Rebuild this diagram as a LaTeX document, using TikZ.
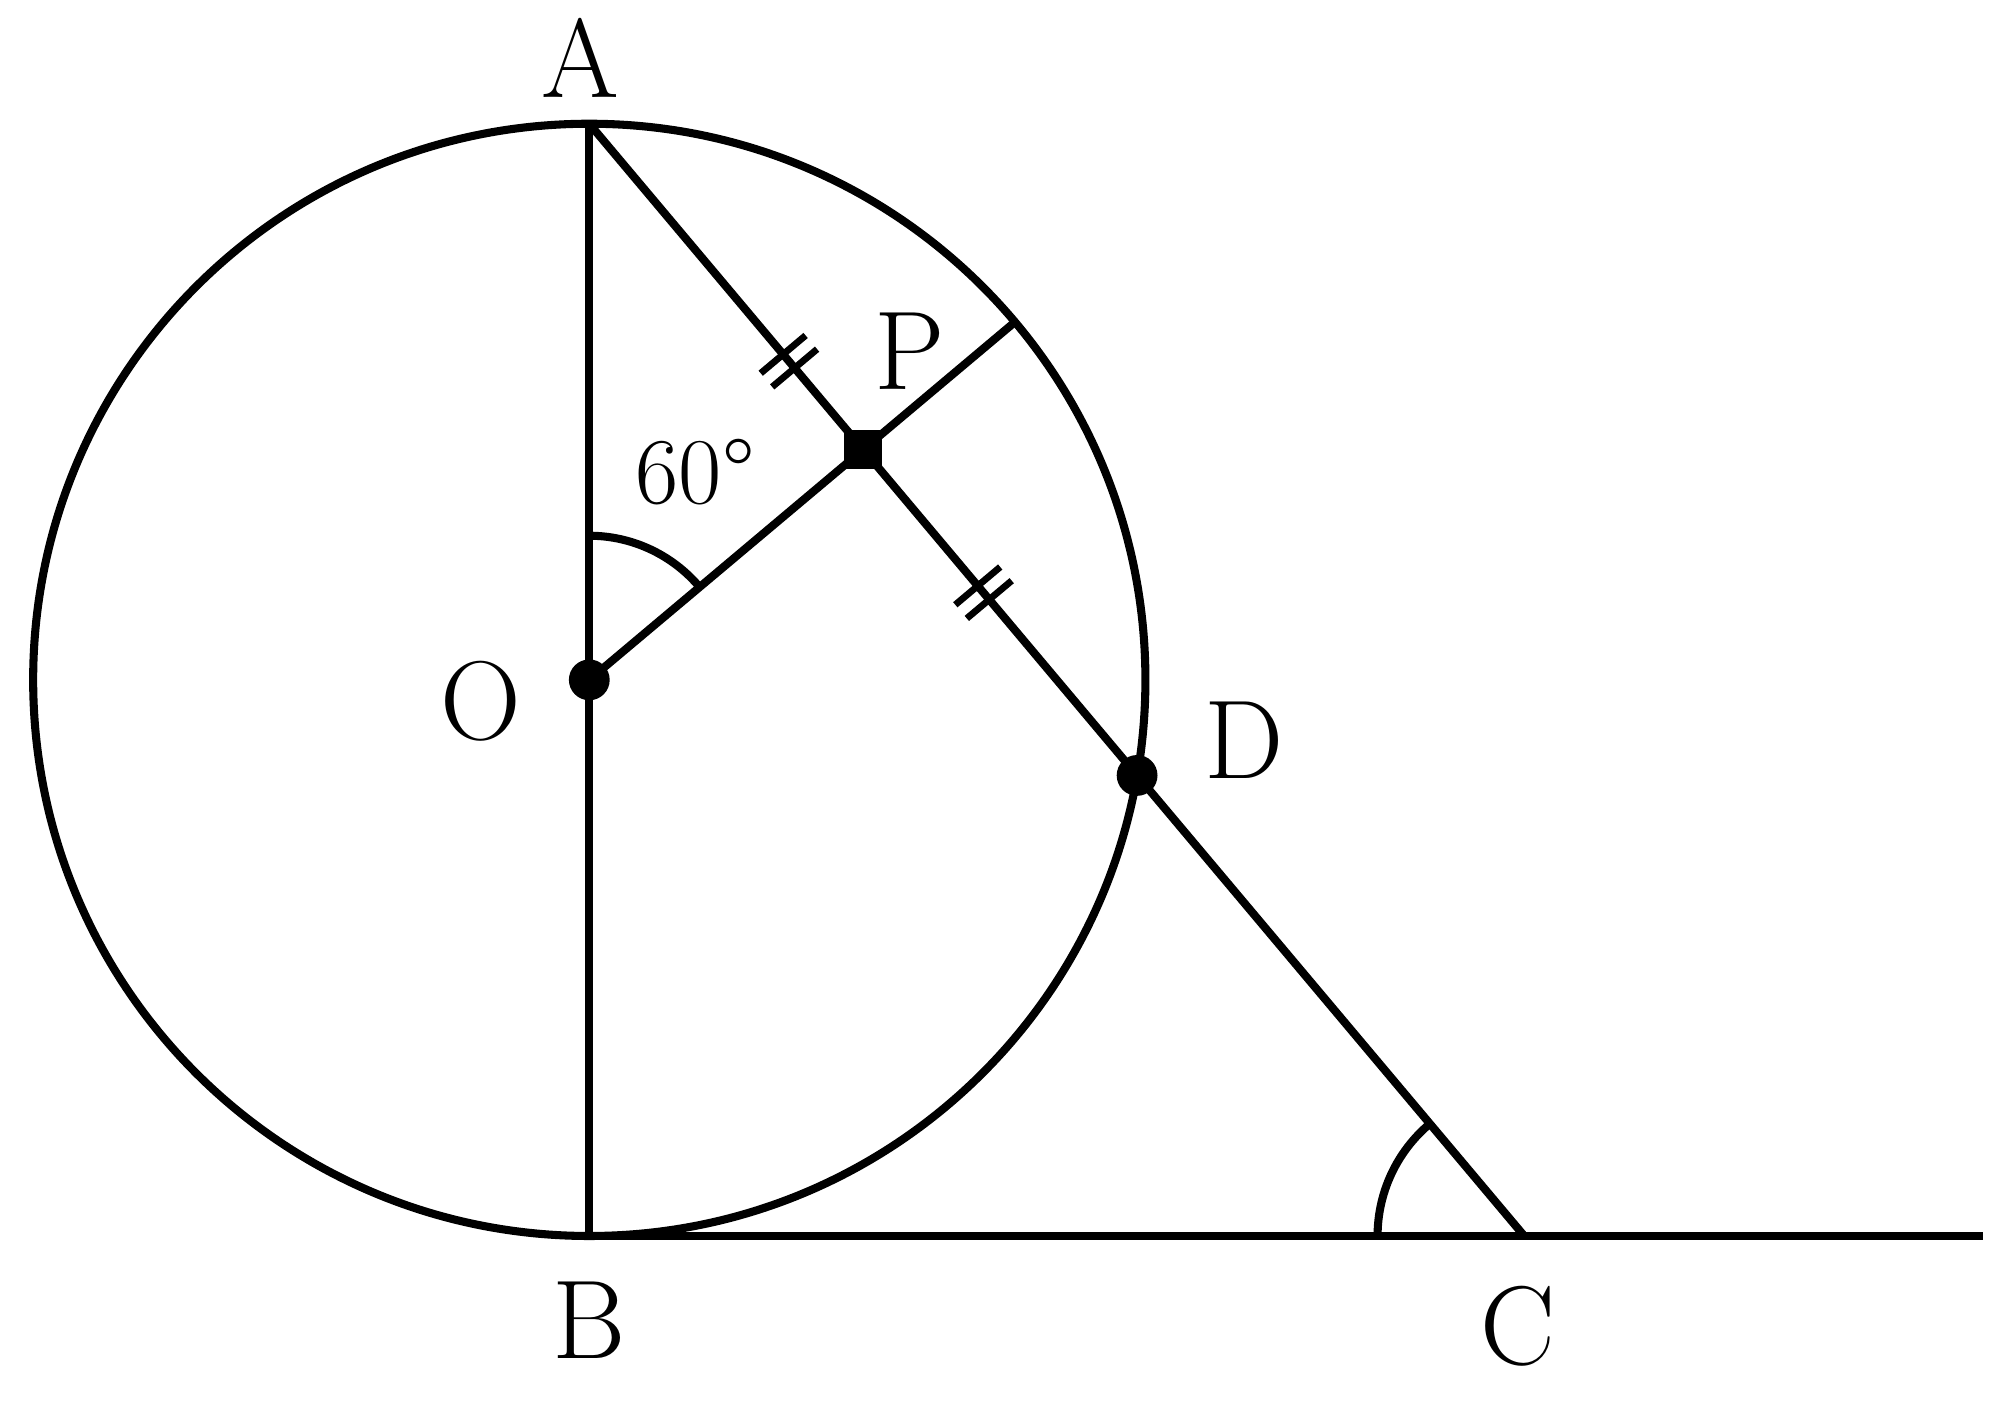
\documentclass[tikz,border=0pt]{standalone}
\usetikzlibrary{calc,angles,decorations.markings}
\begin{document}
\begin{tikzpicture}[line width=1.8pt,
  lbl/.style={font=\fontsize{25}{30}\selectfont, inner sep=0pt},
  dbltick/.style={postaction={decorate,decoration={markings,
      mark=at position #1 with {\draw[line width=1.5pt] (-0.07,-0.23) -- (-0.07,0.23) (0.07,-0.23) -- (0.07,0.23);}}}}]
\useasboundingbox (0,0) rectangle (15.68,11.10);
% Define the points
\def\crad{4.36}
\coordinate (O) at (4.62,5.77);
\coordinate (A) at ($(O)+(0,\crad)$);
\coordinate (B) at ($(O)+(0,-\crad)$);
\coordinate (C) at (11.95,1.41);
\coordinate (E) at (15.55,1.41);
\coordinate (P) at ($(A)!(O)!(C)$);
\coordinate (D) at ($(A)!2!(P)$);
\coordinate (Q) at ($(O)!\crad cm!(P)$);

% Draw the circle
\draw (O) circle (\crad);

% Draw the diameter, the tangent and the chord
\draw (A) -- (B);
\draw (B) -- (E);
\draw[dbltick=0.73] (A) -- (P);
\draw[dbltick=0.44] (P) -- (D);
\draw (D) -- (C);
\draw (O) -- (Q);

% Draw the angle marks
\draw pic[draw, angle radius=1.13cm] {angle=P--O--A};
\draw pic[draw, angle radius=1.15cm] {angle=A--C--B};

% Draw the dots
\fill (O) circle (0.16);
\fill (D) circle (0.16);
\fill ($(P)+(-0.15,-0.15)$) rectangle ++(0.3,0.3);

% Draw the labels
\node[lbl] (labA) at (4.55,10.65) {A};
\node[lbl] (labB) at (4.62,0.75) {B};
\node[lbl] (labC) at (11.90,0.70) {C};
\node[lbl] (labO) at (3.77,5.60) {O};
\node[lbl] (labP) at (7.13,8.35) {P};
\node[lbl] (labD) at (9.75,5.30) {D};
\node[font=\fontsize{21}{25}\selectfont, inner sep=0pt] (lab60) at (5.45,7.40) {60°};
\end{tikzpicture}
\end{document}
